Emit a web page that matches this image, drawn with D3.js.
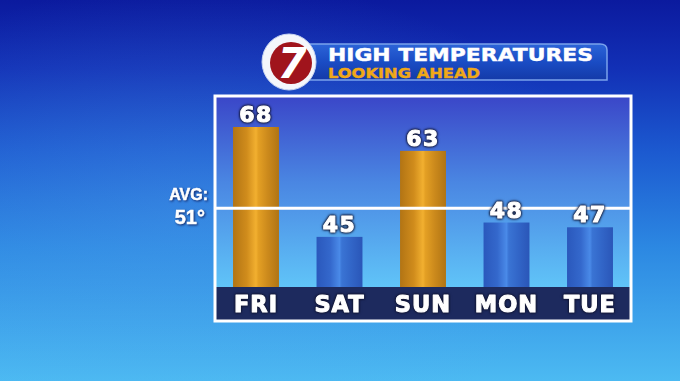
<!DOCTYPE html>
<html><head><meta charset="utf-8">
<script src="https://cdn.jsdelivr.net/npm/d3@7"></script>
<style>html,body{margin:0;padding:0;background:#1a4ac0;overflow:hidden}svg{display:block}</style>
</head><body>
<script>
const days = ["FRI","SAT","SUN","MON","TUE"];
const highs = [68,45,63,48,47];
const average = 51;
const titleText = "HIGH TEMPERATURES";
const subtitleText = "LOOKING AHEAD";
const avgLabel = "AVG:";

const W = 680, H = 381;
const svg = d3.select("body").append("svg").attr("width",W).attr("height",H);
const defs = svg.append("defs");

function lin(id, x1,y1,x2,y2, stops){
  const g = defs.append("linearGradient").attr("id",id)
    .attr("x1",x1).attr("y1",y1).attr("x2",x2).attr("y2",y2);
  stops.forEach(s=>g.append("stop").attr("offset",s[0]).attr("stop-color",s[1]));
}
lin("bg","0","0","0","1",[[0,"#0b1a9e"],[0.18,"#1230b6"],[0.4,"#1c5ad0"],[0.65,"#2c88e2"],[1,"#4cbaf2"]]);
lin("plot","0","0","0","1",[[0,"#3a46c8"],[0.45,"#4a86e2"],[1,"#60c4f8"]]);
lin("orange","0","0","1","0",[[0,"#b27414"],[0.3,"#d08c1c"],[0.5,"#f2b030"],[0.55,"#e4a024"],[0.75,"#cc8a1c"],[1,"#b07414"]]);
lin("blue","0","0","1","0",[[0,"#2a58bc"],[0.3,"#3468cc"],[0.5,"#4a8ae8"],[0.55,"#3a74d4"],[0.75,"#3266c8"],[1,"#2a56b8"]]);
lin("banner","0","0","0","1",[[0,"#2c64d8"],[0.5,"#1a4cc4"],[1,"#143aa8"]]);
const rg = defs.append("radialGradient").attr("id","glow").attr("cx","0.3").attr("cy","0.55").attr("r","0.6");
rg.append("stop").attr("offset",0).attr("stop-color","#5aaaf0").attr("stop-opacity",0.3);
rg.append("stop").attr("offset",1).attr("stop-color","#5aaaf0").attr("stop-opacity",0);

svg.append("rect").attr("width",W).attr("height",H).attr("fill","url(#bg)");
svg.append("rect").attr("width",W).attr("height",H).attr("fill","url(#glow)");

const box = {x:215, y:96, w:416, h:225};
const base = 287;
const x = d3.scaleBand().domain(days).range([216,630]).paddingInner(0.45).paddingOuter(0.204);
const y = d3.scaleLinear().domain([34.5,68]).range([base,127]);

svg.append("rect").attr("x",box.x).attr("y",box.y).attr("width",box.w).attr("height",base-box.y)
  .attr("fill","url(#plot)");
svg.append("rect").attr("x",box.x).attr("y",base).attr("width",box.w).attr("height",box.y+box.h-base)
  .attr("fill","#1d2a5e");

svg.selectAll("rect.bar").data(days).join("rect").attr("class","bar")
  .attr("x",d=>x(d)).attr("width",x.bandwidth())
  .attr("y",(d,i)=>y(highs[i])).attr("height",(d,i)=>base-y(highs[i]))
  .attr("fill",(d,i)=>highs[i]>average?"url(#orange)":"url(#blue)");

svg.append("line").attr("x1",box.x).attr("x2",box.x+box.w)
  .attr("y1",y(average)).attr("y2",y(average))
  .attr("stroke","#fff").attr("stroke-width",3);

svg.append("rect").attr("x",box.x).attr("y",box.y).attr("width",box.w).attr("height",box.h)
  .attr("fill","none").attr("stroke","#fff").attr("stroke-width",3);

function heavy(sel){
  return sel.attr("fill","#fff").attr("stroke","#fff").attr("stroke-width",1.1)
    .attr("stroke-linejoin","round")
    .style("filter","drop-shadow(0 0 1.2px #101430) drop-shadow(0 0 0.8px #101430)");
}

heavy(svg.selectAll("text.val").data(days).join("text").attr("class","val")
  .attr("x",d=>x(d)+x.bandwidth()/2).attr("y",(d,i)=>y(highs[i])-5)
  .attr("text-anchor","middle")
  .attr("font-family","DejaVu Sans").attr("font-weight","bold").attr("font-size",22)
  .attr("letter-spacing",1.5)
  .text((d,i)=>highs[i]));

heavy(svg.selectAll("text.day").data(days).join("text").attr("class","day")
  .attr("x",d=>x(d)+x.bandwidth()/2).attr("y",312)
  .attr("text-anchor","middle")
  .attr("font-family","DejaVu Sans").attr("font-weight","bold").attr("font-size",22.5)
  .attr("letter-spacing",1)
  .text(d=>d));

function soft(sel){
  return sel.attr("fill","#fff").attr("stroke","#fff").attr("stroke-width",0.5)
    .style("filter","drop-shadow(1px 1px 1px rgba(10,20,80,0.8))");
}
soft(svg.append("text").attr("x",208).attr("y",200).attr("text-anchor","end")
  .attr("font-family","Liberation Sans").attr("font-weight","bold").attr("font-size",16)
  .text(avgLabel));
soft(svg.append("text").attr("x",205).attr("y",224).attr("text-anchor","end")
  .attr("font-family","Liberation Sans").attr("font-weight","bold").attr("font-size",20)
  .text(average+"°"));

svg.append("path")
  .attr("d","M300,44 L600,44 Q607,44 607,50 L607,80 L300,80 Z")
  .attr("fill","url(#banner)").attr("stroke","#7aa2ec").attr("stroke-width",1.5);
svg.append("text").attr("x",328).attr("y",61).attr("fill","#fff")
  .attr("stroke","#fff").attr("stroke-width",0.4)
  .attr("font-family","DejaVu Sans").attr("font-weight","bold").attr("font-size",17)
  .attr("textLength",265).attr("lengthAdjust","spacingAndGlyphs").text(titleText);
svg.append("text").attr("x",328).attr("y",78).attr("fill","#f0a818")
  .attr("stroke","#f0a818").attr("stroke-width",0.4)
  .attr("font-family","DejaVu Sans").attr("font-weight","bold").attr("font-size",14)
  .attr("textLength",152).attr("lengthAdjust","spacingAndGlyphs").text(subtitleText);

svg.append("ellipse").attr("cx",289).attr("cy",62).attr("rx",27).attr("ry",28).attr("fill","#f4f6fb")
  .attr("stroke","#c8d4f0").attr("stroke-width",1);
svg.append("circle").attr("cx",291).attr("cy",63).attr("r",21).attr("fill","#a0141c");
svg.append("text").attr("x",292).attr("y",78).attr("text-anchor","middle").attr("fill","#fff")
  .attr("font-family","DejaVu Sans").attr("font-weight","bold").attr("font-style","italic")
  .attr("font-size",42).text("7");
</script>
</body></html>
